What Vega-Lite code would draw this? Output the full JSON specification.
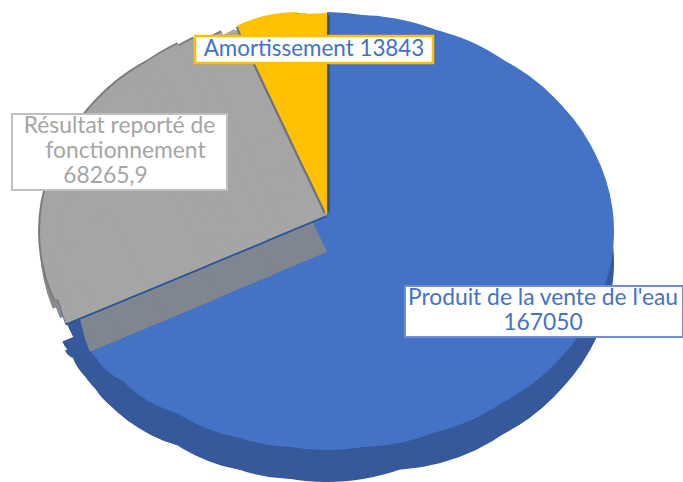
{"$schema":"https://vega.github.io/schema/vega-lite/v6.json","width":683,"height":482,"padding":{"left":4,"right":0,"top":0,"bottom":0},"autosize":{"type":"fit","contains":"padding"},"background":"white","config":{"view":{"stroke":null}},
"data":{"values":[{"poste":"Produit","valeur":167050,"etiquette":"Produit de la vente de l'eau|167050"},{"poste":"Resultat","valeur":68265.9,"etiquette":"Résultat reporté de|fonctionnement|68265,9"},{"poste":"Amortissement","valeur":13843,"etiquette":"Amortissement 13843"}]},
"transform":[{"stack":"valeur","groupby":[],"as":["debut","fin"]},{"calculate":"split(datum.etiquette,'|')","as":"lignes"}],
"layer":[
{"encoding":{"theta":{"field":"debut","type":"quantitative","scale":{"domain":[0,167050,235315.9,249158.9],"range":[0,4.32,5.84,6.2832]}},"theta2":{"field":"fin"}},
"layer":[
{"transform":[{"filter":"datum.poste=='Produit'"}],"layer":[
{"mark":{"type":"arc","fill":"#36599c","outerRadius":219,"xOffset":-14.5,"yOffset":22}},
{"mark":{"type":"arc","fill":"#36599c","outerRadius":207,"xOffset":45.5,"yOffset":22}},
{"mark":{"type":"arc","fill":"#36599c","outerRadius":191.5,"xOffset":75.5,"yOffset":22}},
{"mark":{"type":"arc","fill":"#36599c","outerRadius":180.5,"xOffset":90.5,"yOffset":22}},
{"mark":{"type":"arc","fill":"#36599c","outerRadius":167,"xOffset":105.5,"yOffset":22}},
{"mark":{"type":"arc","fill":"#36599c","outerRadius":184,"xOffset":-44.5,"yOffset":54}},
{"mark":{"type":"arc","fill":"#36599c","outerRadius":164,"xOffset":-74.5,"yOffset":67}},
{"mark":{"type":"arc","fill":"#36599c","outerRadius":116,"xOffset":-134.5,"yOffset":92}},
{"mark":{"type":"arc","fill":"#36599c","outerRadius":60,"xOffset":-194.5,"yOffset":117}},
{"mark":{"type":"arc","fill":"#36599c","outerRadius":152,"xOffset":-134.5,"yOffset":24}},
{"mark":{"type":"arc","fill":"#36599c","outerRadius":87,"xOffset":-194.5,"yOffset":48.5}},
{"mark":{"type":"arc","fill":"#36599c","outerRadius":33,"xOffset":-244.5,"yOffset":69}},
{"mark":{"type":"arc","fill":"#36599c","outerRadius":153,"xOffset":-122.5,"yOffset":57}},
{"mark":{"type":"arc","fill":"#36599c","outerRadius":98,"xOffset":-176.5,"yOffset":79}},
{"mark":{"type":"arc","fill":"#36599c","outerRadius":52,"xOffset":-220.5,"yOffset":97.7}},
{"mark":{"type":"arc","fill":"#36599c","outerRadius":30,"xOffset":-251.5,"yOffset":89}},
{"mark":{"type":"arc","fill":"#36599c","outerRadius":14,"xOffset":-263.5,"yOffset":104}},
{"mark":{"type":"arc","fill":"#4472c4","outerRadius":219,"xOffset":-14.5,"yOffset":-10}},
{"mark":{"type":"arc","fill":"#4472c4","outerRadius":216,"xOffset":15.5,"yOffset":-10}},
{"mark":{"type":"arc","fill":"#4472c4","outerRadius":207,"xOffset":45.5,"yOffset":-10}},
{"mark":{"type":"arc","fill":"#4472c4","outerRadius":191.5,"xOffset":75.5,"yOffset":-10}},
{"mark":{"type":"arc","fill":"#4472c4","outerRadius":180.5,"xOffset":90.5,"yOffset":-10}},
{"mark":{"type":"arc","fill":"#4472c4","outerRadius":167,"xOffset":105.5,"yOffset":-10}},
{"mark":{"type":"arc","fill":"#4472c4","outerRadius":184,"xOffset":-44.5,"yOffset":22}},
{"mark":{"type":"arc","fill":"#4472c4","outerRadius":164,"xOffset":-74.5,"yOffset":35}},
{"mark":{"type":"arc","fill":"#4472c4","outerRadius":116,"xOffset":-134.5,"yOffset":60}},
{"mark":{"type":"arc","fill":"#4472c4","outerRadius":60,"xOffset":-194.5,"yOffset":85}},
{"mark":{"type":"arc","fill":"#4472c4","outerRadius":24,"xOffset":-229.5,"yOffset":99}}
]},
{"transform":[{"filter":"datum.poste=='Resultat'"}],"layer":[
{"mark":{"type":"arc","fill":"#8a8a8a","outerRadius":191.5,"xOffset":-104.5,"yOffset":4}},
{"mark":{"type":"arc","fill":"#8a8a8a","outerRadius":167,"xOffset":-134.5,"yOffset":4}},
{"mark":{"type":"arc","fill":"#8a8a8a","outerRadius":120,"xOffset":-149.5,"yOffset":30}},
{"mark":{"type":"arc","fill":"#7f8690","outerRadius":203,"xOffset":-14.5,"yOffset":11}},
{"mark":{"type":"arc","fill":"#7f8690","outerRadius":198,"xOffset":-68.5,"yOffset":34}},
{"mark":{"type":"arc","fill":"#7f8690","outerRadius":140,"xOffset":-122.5,"yOffset":57}},
{"mark":{"type":"arc","fill":"#7f8690","outerRadius":80,"xOffset":-176.5,"yOffset":79.3}},
{"mark":{"type":"arc","fill":"#7f8690","outerRadius":31,"xOffset":-220.5,"yOffset":97.7}},
{"mark":{"type":"arc","fill":"#2f5597","outerRadius":203,"xOffset":-14.5,"yOffset":-24}},
{"mark":{"type":"arc","fill":"#2f5597","outerRadius":215,"xOffset":-74.5,"yOffset":1}},
{"mark":{"type":"arc","fill":"#2f5597","outerRadius":152,"xOffset":-134.5,"yOffset":26}},
{"mark":{"type":"arc","fill":"#2f5597","outerRadius":88,"xOffset":-194.5,"yOffset":50.5}},
{"mark":{"type":"arc","fill":"#2f5597","outerRadius":31,"xOffset":-244.5,"yOffset":71}},
{"mark":{"type":"arc","fill":"#7b7b7b","outerRadius":178,"xOffset":-44.5,"yOffset":-50}},
{"mark":{"type":"arc","fill":"#7b7b7b","outerRadius":150,"xOffset":-74.5,"yOffset":-70}},
{"mark":{"type":"arc","fill":"#7b7b7b","outerRadius":215,"xOffset":-56.5,"yOffset":-10}},
{"mark":{"type":"arc","fill":"#7b7b7b","outerRadius":209,"xOffset":-74.5,"yOffset":-10}},
{"mark":{"type":"arc","fill":"#7b7b7b","outerRadius":193.5,"xOffset":-104.5,"yOffset":-10}},
{"mark":{"type":"arc","fill":"#7b7b7b","outerRadius":182.5,"xOffset":-119.5,"yOffset":-10}},
{"mark":{"type":"arc","fill":"#7b7b7b","outerRadius":169,"xOffset":-134.5,"yOffset":-10}},
{"mark":{"type":"arc","fill":"#a5a5a5","outerRadius":203,"xOffset":-14.5,"yOffset":-26}},
{"mark":{"type":"arc","fill":"#a5a5a5","outerRadius":176,"xOffset":-44.5,"yOffset":-50}},
{"mark":{"type":"arc","fill":"#a5a5a5","outerRadius":148,"xOffset":-74.5,"yOffset":-70}},
{"mark":{"type":"arc","fill":"#a5a5a5","outerRadius":146,"xOffset":-44.5,"yOffset":-80}},
{"mark":{"type":"arc","fill":"#a5a5a5","outerRadius":113,"xOffset":-54.5,"yOffset":-110}},
{"mark":{"type":"arc","fill":"#a5a5a5","outerRadius":213,"xOffset":-56.5,"yOffset":-10}},
{"mark":{"type":"arc","fill":"#a5a5a5","outerRadius":215,"xOffset":-74.5,"yOffset":-1}},
{"mark":{"type":"arc","fill":"#a5a5a5","outerRadius":207,"xOffset":-74.5,"yOffset":-10}},
{"mark":{"type":"arc","fill":"#a5a5a5","outerRadius":191.5,"xOffset":-104.5,"yOffset":-10}},
{"mark":{"type":"arc","fill":"#a5a5a5","outerRadius":180.5,"xOffset":-119.5,"yOffset":-10}},
{"mark":{"type":"arc","fill":"#a5a5a5","outerRadius":167,"xOffset":-134.5,"yOffset":-10}},
{"mark":{"type":"arc","fill":"#a5a5a5","outerRadius":152,"xOffset":-134.5,"yOffset":24}},
{"mark":{"type":"arc","fill":"#a5a5a5","outerRadius":88,"xOffset":-194.5,"yOffset":48.5}},
{"mark":{"type":"arc","fill":"#a5a5a5","outerRadius":31,"xOffset":-244.5,"yOffset":69}}
]},
{"transform":[{"filter":"datum.poste=='Amortissement'"}],"layer":[
{"mark":{"type":"arc","fill":"#2f5597","outerRadius":200,"xOffset":-11.5,"yOffset":-26}},
{"mark":{"type":"arc","fill":"#2f5597","outerRadius":138,"xOffset":-41.5,"yOffset":-90}},
{"mark":{"type":"arc","fill":"#737373","outerRadius":199,"xOffset":-17,"yOffset":-26}},
{"mark":{"type":"arc","fill":"#737373","outerRadius":158,"xOffset":-37,"yOffset":-68}},
{"mark":{"type":"arc","fill":"#737373","outerRadius":137,"xOffset":-47,"yOffset":-90}},
{"mark":{"type":"arc","fill":"#ffc000","outerRadius":202,"xOffset":-14.5,"yOffset":-26}},
{"mark":{"type":"arc","fill":"#ffc000","outerRadius":160,"xOffset":-34.5,"yOffset":-68}},
{"mark":{"type":"arc","fill":"#ffc000","outerRadius":139,"xOffset":-44.5,"yOffset":-90}}
]}
]},
{"transform":[{"filter":"datum.poste=='Produit'"}],"layer":[
{"mark":{"type":"point","filled":true,"fill":"white","fillOpacity":1,"stroke":"#6f8fd3","strokeWidth":2,"opacity":1,"shape":"M-1,-0.1835H1V0.1835H-1Z","size":77284,"xOffset":202.5,"yOffset":70.5}},
{"mark":{"type":"text","font":"Lato","fontSize":22.8,"fill":"#4472c4","align":"center","baseline":"middle","xOffset":201.5,"yOffset":57},"encoding":{"text":{"field":"lignes[0]"}}},
{"mark":{"type":"text","font":"Lato","fontSize":22.8,"fill":"#4472c4","align":"center","baseline":"middle","xOffset":201.5,"yOffset":82},"encoding":{"text":{"field":"lignes[1]"}}}
]},
{"transform":[{"filter":"datum.poste=='Resultat'"}],"layer":[
{"mark":{"type":"point","filled":true,"fill":"white","fillOpacity":1,"stroke":"#bfbfbf","strokeWidth":2,"opacity":1,"shape":"M-1,-0.3535H1V0.3535H-1Z","size":46225,"xOffset":-222,"yOffset":-89}},
{"mark":{"type":"text","font":"Lato","fontSize":22.8,"fill":"#a5a5a5","align":"center","baseline":"middle","xOffset":-222,"yOffset":-115},"encoding":{"text":{"field":"lignes[0]"}}},
{"mark":{"type":"text","font":"Lato","fontSize":22.8,"fill":"#a5a5a5","align":"center","baseline":"middle","xOffset":-216,"yOffset":-90},"encoding":{"text":{"field":"lignes[1]"}}},
{"mark":{"type":"text","font":"Lato","fontSize":22.8,"fill":"#a5a5a5","align":"center","baseline":"middle","xOffset":-236,"yOffset":-65},"encoding":{"text":{"field":"lignes[2]"}}}
]},
{"transform":[{"filter":"datum.poste=='Amortissement'"}],"layer":[
{"mark":{"type":"point","filled":true,"fill":"white","fillOpacity":1,"stroke":"#ffc000","strokeWidth":2.5,"opacity":1,"shape":"M-1,-0.1134H1V0.1134H-1Z","size":56644,"xOffset":-27.5,"yOffset":-191.5}},
{"mark":{"type":"text","font":"Lato","fontSize":22.4,"fill":"#4472c4","align":"center","baseline":"middle","xOffset":-27.5,"yOffset":-192},"encoding":{"text":{"field":"etiquette"}}}
]}
]}
